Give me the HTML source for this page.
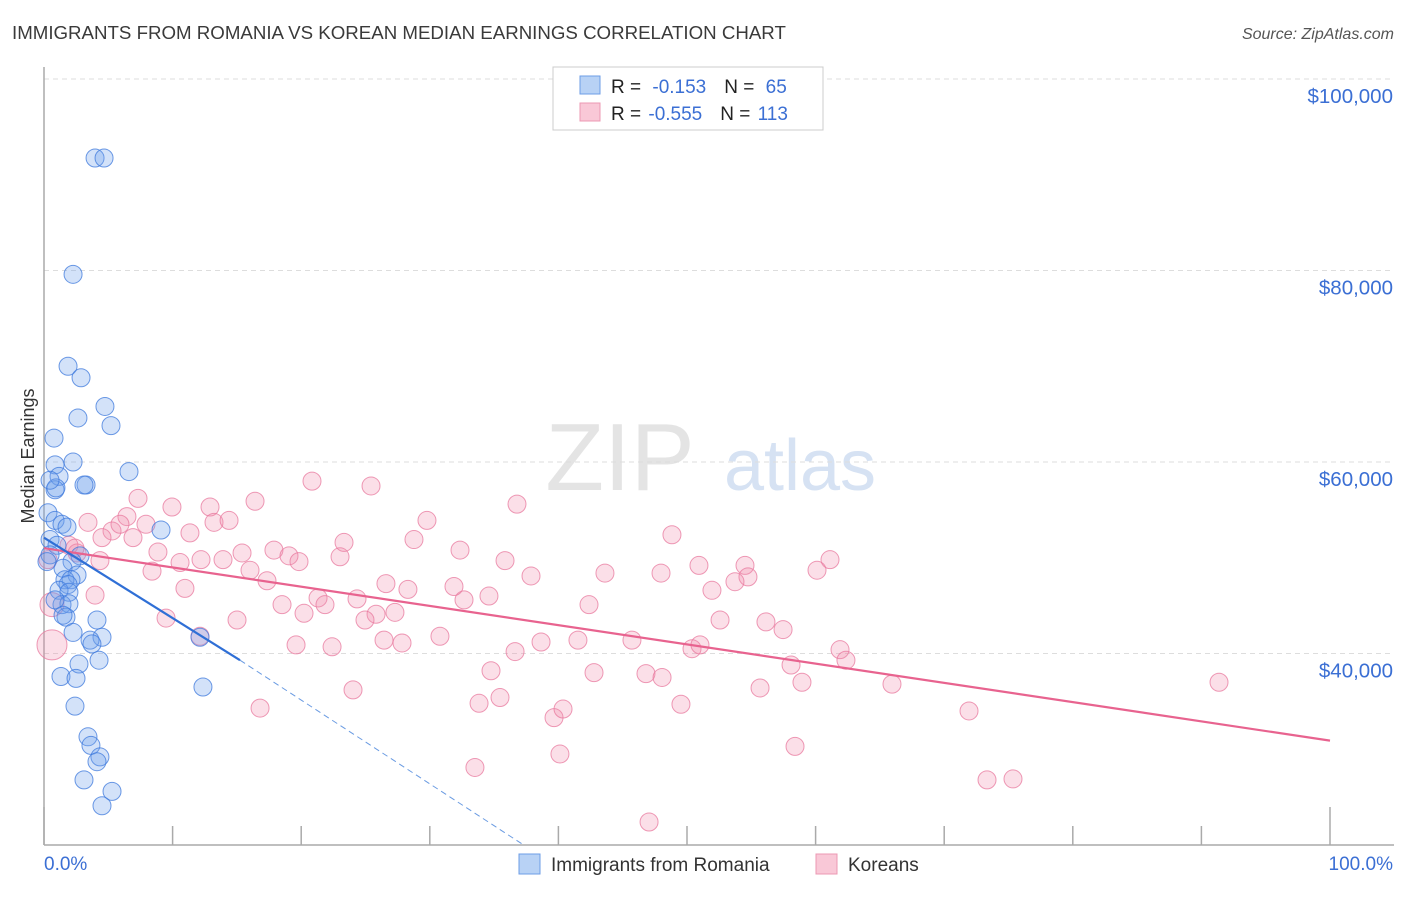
<!DOCTYPE html>
<html><head><meta charset="utf-8"><style>
body{margin:0;background:#fff;width:1406px;height:892px;overflow:hidden;font-family:"Liberation Sans",sans-serif;}
svg text{font-family:"Liberation Sans",sans-serif;}
</style></head><body>
<svg id="chart" width="1406" height="892">
<text x="12" y="39" font-size="18.7" fill="#3a3a3a">IMMIGRANTS FROM ROMANIA VS KOREAN MEDIAN EARNINGS CORRELATION CHART</text>
<text x="1394" y="39" font-size="16" fill="#555" font-style="italic" text-anchor="end">Source: ZipAtlas.com</text>
<text x="620" y="490" font-size="96" fill="#e4e4e4" font-family="Liberation Serif" text-anchor="middle">ZIP</text>
<text x="800" y="490" font-size="72" fill="#d6e2f3" text-anchor="middle">atlas</text>
<g id="grid"></g>
<g id="axes"></g>
<g id="pts"></g>
<g id="trend"></g>
<text transform="translate(34,456) rotate(-90)" font-size="18" fill="#333" text-anchor="middle">Median Earnings</text>
<g>
<rect x="553" y="67" width="270" height="63" fill="#fff" stroke="#ccc"/>
<rect x="580" y="76" width="20" height="18" fill="#b8d2f5" stroke="#6d9de6"/>
<rect x="580" y="103" width="20" height="18" fill="#f9c8d7" stroke="#ec98b3"/>
<text x="611" y="93" font-size="19" fill="#222">R = <tspan fill="#3b6fd4" dx="6">-0.153</tspan><tspan dx="18" fill="#222">N = </tspan><tspan fill="#3b6fd4" dx="6">65</tspan></text>
<text x="611" y="120" font-size="19" fill="#222">R = <tspan fill="#3b6fd4" dx="2">-0.555</tspan><tspan dx="18" fill="#222">N = </tspan><tspan fill="#3b6fd4" dx="2">113</tspan></text>
</g>
<g>
<rect x="519" y="854" width="21" height="20" fill="#b8d2f5" stroke="#6d9de6"/>
<text x="551" y="871" font-size="19" fill="#333">Immigrants from Romania</text>
<rect x="816" y="854" width="21" height="20" fill="#f9c8d7" stroke="#ec98b3"/>
<text x="848" y="871" font-size="19" fill="#333">Koreans</text>
</g>
</svg>
<script>
const yTicks=[100000,80000,60000,40000];
const yTickLabels=["$100,000","$80,000","$60,000","$40,000"];
const xTickPcts=[0,10,20,30,40,50,60,70,80,90,100];
const blueX=[3.97,4.67,2.26,1.87,2.88,4.74,2.64,5.21,0.78,0.86,2.26,1.17,6.61,0.86,3.27,3.11,0.31,0.86,1.40,1.79,9.10,0.47,1.01,0.47,2.80,0.23,2.18,1.48,2.57,1.63,2.10,1.87,1.17,1.94,1.40,1.94,0.86,1.71,4.12,2.26,4.51,3.58,3.73,4.28,2.72,12.13,1.32,2.49,2.41,12.36,3.42,3.65,4.35,4.12,3.11,5.29,4.51,0.93,0.47,1.48];
const blueY=[91.75,91.75,79.6,70.0,68.8,65.8,64.6,63.8,62.5,59.7,60.0,58.5,59.0,57.1,57.6,57.6,54.7,53.9,53.5,53.2,52.9,51.9,51.3,50.3,50.2,49.6,49.6,48.9,48.2,47.7,47.7,47.2,46.6,46.4,45.1,45.2,45.6,43.8,43.5,42.2,41.7,41.4,41.0,39.3,38.9,41.7,37.6,37.4,34.5,36.5,31.3,30.4,29.2,28.7,26.8,25.6,24.1,57.3,58.1,44.0];
const pinkX=[0.62,0.62,3.42,6.45,5.29,5.91,7.93,7.31,9.95,12.91,16.41,20.84,25.43,36.78,29.78,13.22,14.39,11.35,6.92,4.51,1.94,2.57,4.35,8.86,10.58,12.21,13.92,15.40,17.88,19.05,19.83,23.02,23.33,28.77,32.35,35.85,37.87,43.62,47.98,48.83,50.93,54.51,54.74,53.73,51.94,61.12,60.11,8.40,16.02,17.34,10.96,3.97,18.51,20.22,21.31,21.85,24.34,26.59,28.30,32.66,34.60,27.29,25.82,24.96,42.38,31.88,15.01,9.49,12.13,19.60,22.40,26.44,27.84,30.79,36.63,38.65,41.52,45.72,50.39,51.01,52.57,56.14,57.47,58.09,58.94,61.90,62.36,65.94,71.93,91.37,24.03,16.80,33.83,35.46,34.76,42.77,46.81,48.06,49.53,55.68,39.66,40.36,33.51,40.12,58.40,73.33,75.35,47.05,0.31,2.41];
const pinkY=[40.9,45.1,53.7,54.3,52.8,53.5,53.5,56.2,55.3,55.3,55.9,58.0,57.5,55.6,53.9,53.7,53.9,52.6,52.1,52.1,51.3,50.5,49.7,50.6,49.5,49.8,49.8,50.5,50.8,50.2,49.6,50.1,51.6,51.9,50.8,49.7,48.1,48.4,48.4,52.4,49.2,49.2,48.0,47.5,46.6,49.8,48.7,48.6,48.7,47.6,46.8,46.1,45.1,44.2,45.8,45.1,45.7,47.3,46.7,45.6,46.0,44.3,44.1,43.5,45.1,47.0,43.5,43.7,41.8,40.9,40.7,41.4,41.1,41.8,40.2,41.2,41.4,41.4,40.5,40.9,43.5,43.3,42.5,38.8,37.0,40.4,39.3,36.8,34.0,37.0,36.2,34.3,34.8,35.4,38.2,38.0,37.9,37.5,34.7,36.4,33.3,34.2,28.1,29.5,30.3,26.8,26.9,22.4,49.8,51.0];
const pinkSize=[15,12];
const blueTrendX=[0,15.24],blueTrendY=[52.1,39.3];
const blueDashX=[15.24,37.3],blueDashY=[39.3,20.0];
const pinkTrendX=[0,100],pinkTrendY=[51.0,30.9];

const X0=44,X1=1330,YTOP=79,PXPER=191.5/20000;
const xs=p=>X0+p/100*(X1-X0);
const ys=v=>YTOP+(100000-v)*PXPER;
const NS="http://www.w3.org/2000/svg";
function mk(tag,attrs,parent){const e=document.createElementNS(NS,tag);for(const k in attrs)e.setAttribute(k,attrs[k]);parent.appendChild(e);return e;}
const grid=document.getElementById('grid'),axes=document.getElementById('axes'),pts=document.getElementById('pts'),trend=document.getElementById('trend');
yTicks.forEach((v,i)=>{
 const l=mk('line',{x1:44,x2:1394,y1:ys(v),y2:ys(v),stroke:'#ddd','stroke-dasharray':'5,4'},grid);
 
 
 const t=mk('text',{x:1393,y:ys(v)+24,'font-size':20.5,fill:'#3b6fd4','text-anchor':'end'},grid);
 t.textContent=yTickLabels[i];
 
 
});
const ax=mk('line',{x1:44,x2:44,y1:67,y2:845,stroke:'#aaa','stroke-width':1.5},axes);


const bx=mk('line',{x1:44,x2:1394,y1:845,y2:845,stroke:'#aaa','stroke-width':1.5},axes);


xTickPcts.forEach((p,i)=>{
 const t=mk('line',{x1:xs(p),x2:xs(p),y1:(i==0||i==10)?807:826,y2:845,stroke:'#aaa','stroke-width':1.5},axes);
 
 
});
const xl0=mk('text',{x:44,y:870,'font-size':19,fill:'#3b6fd4'},axes);xl0.textContent='0.0%';


const xl1=mk('text',{x:1393,y:870,'font-size':19,fill:'#3b6fd4','text-anchor':'end'},axes);xl1.textContent='100.0%';


pinkX.forEach((p,i)=>{
 const c=mk('circle',{cx:xs(p),cy:ys(pinkY[i]*1000),r:pinkSize[i]||9,fill:'rgba(240,140,172,0.28)',stroke:'rgba(232,120,158,0.75)','stroke-width':1},pts);
 
 
});
blueX.forEach((p,i)=>{
 const c=mk('circle',{cx:xs(p),cy:ys(blueY[i]*1000),r:9,fill:'rgba(110,160,235,0.3)',stroke:'rgba(60,120,220,0.75)','stroke-width':1},pts);
 
 
});
const pl=mk('line',{x1:xs(pinkTrendX[0]),y1:ys(pinkTrendY[0]*1000),x2:xs(pinkTrendX[1]),y2:ys(pinkTrendY[1]*1000),stroke:'#e8638f','stroke-width':2.2},trend);


const bl=mk('line',{x1:xs(blueTrendX[0]),y1:ys(blueTrendY[0]*1000),x2:xs(blueTrendX[1]),y2:ys(blueTrendY[1]*1000),stroke:'#2f6fd6','stroke-width':2.2},trend);


const bd=mk('line',{x1:xs(blueDashX[0]),y1:ys(blueDashY[0]*1000),x2:xs(blueDashX[1]),y2:ys(blueDashY[1]*1000),stroke:'#6a9be2','stroke-width':1,'stroke-dasharray':'6,4'},trend);


</script>
</body></html>
